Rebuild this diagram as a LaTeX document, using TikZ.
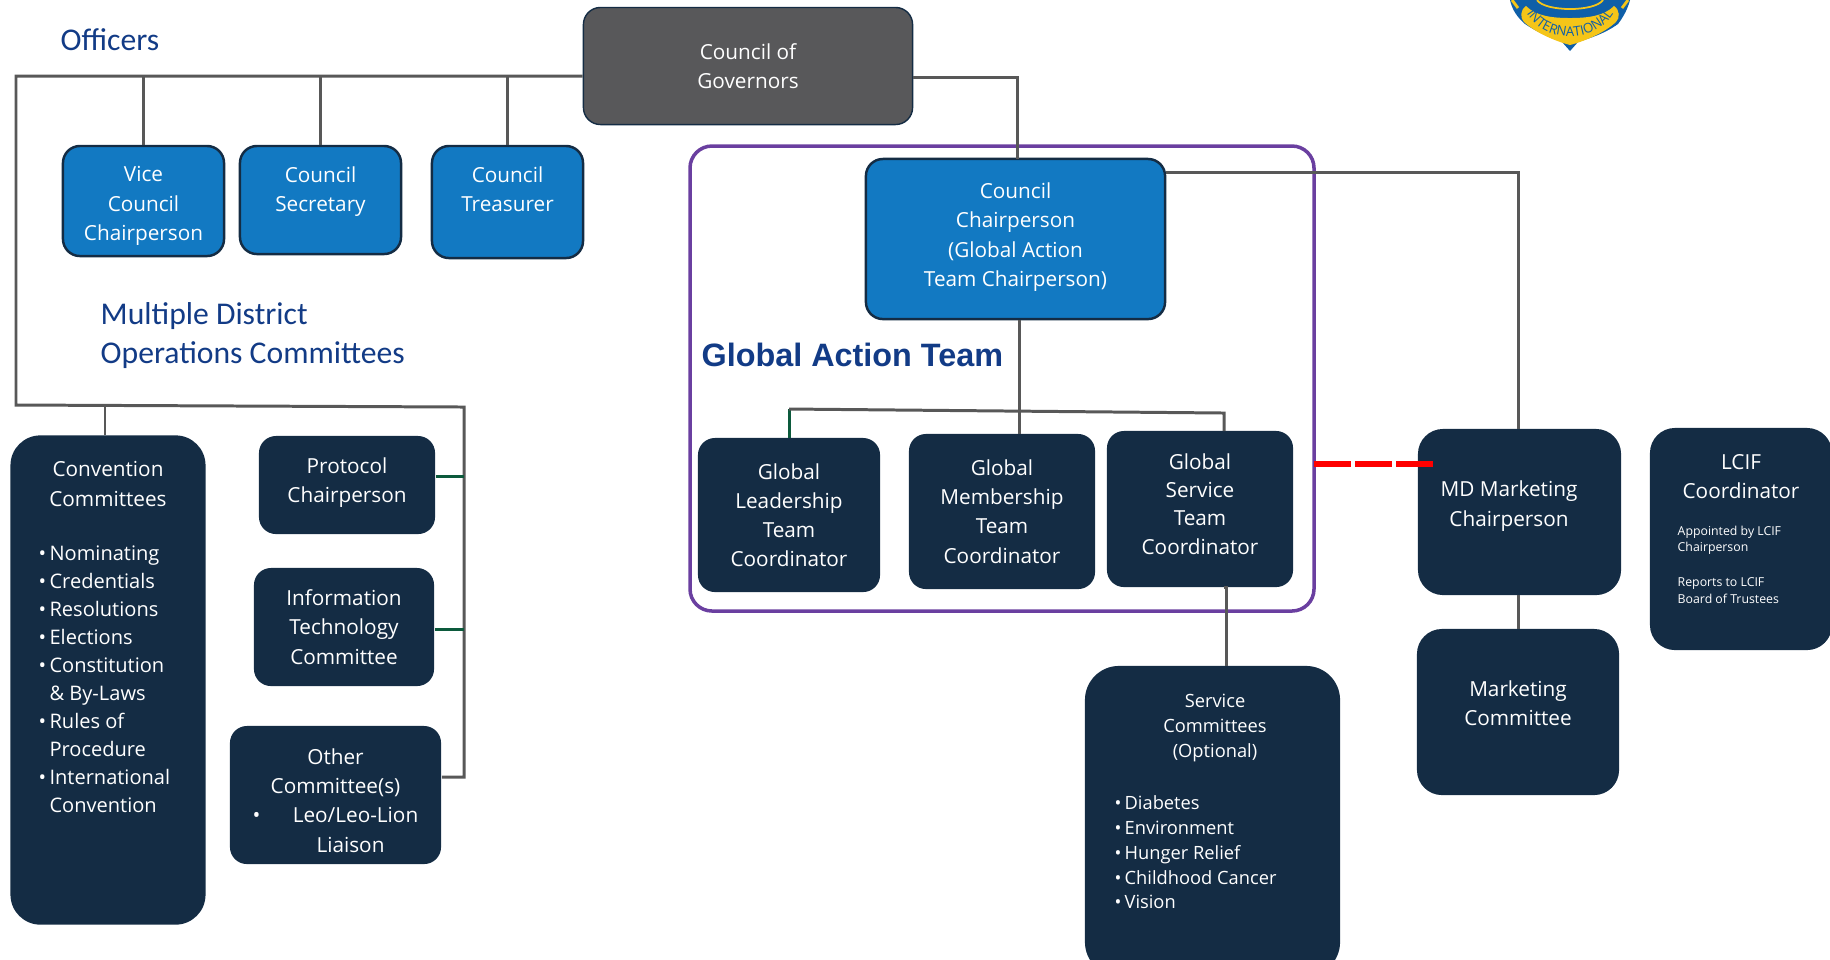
\documentclass[tikz,border=0pt]{standalone}
\usepackage{fontspec}
\setmainfont{Open Sans}
\newfontfamily\headfont{Carlito}
\newfontfamily\teamfont{Liberation Sans}
\usetikzlibrary{decorations.text}
\definecolor{boxblue}{HTML}{1279C2}
\definecolor{boxdark}{HTML}{142C44}
\definecolor{boxgray}{HTML}{58585A}
\definecolor{wiregray}{HTML}{585858}
\definecolor{wiregreen}{HTML}{0C5A3C}
\definecolor{teampurple}{HTML}{6A3FA0}
\definecolor{headblue}{HTML}{123B86}
\definecolor{logoblue}{HTML}{0F5FA8}
\definecolor{logogold}{HTML}{F5C518}
\tikzset{
  boxbase/.style={rounded corners=0.17cm, align=center, text=white, inner sep=0pt, font=\fontsize{5.9}{8.3}\selectfont},
  bluebox/.style={boxbase, fill=boxblue, draw=boxdark, line width=0.7pt},
  darkbox/.style={boxbase, fill=boxdark},
  graybox/.style={boxbase, fill=boxgray, draw=boxdark, line width=0.4pt},
  boxtext/.style={align=center, text=white, inner sep=0pt, font=\fontsize{5.9}{8.3}\selectfont},
  listtext/.style={align=left, text=white, inner sep=0pt, anchor=north west, font=\fontsize{5.7}{7.95}\selectfont},
  smalllist/.style={align=left, text=white, inner sep=0pt, anchor=north west, font=\fontsize{5.2}{7.1}\selectfont},
  smalltext/.style={align=left, text=white, inner sep=0pt, anchor=north west, font=\fontsize{3.5}{4.8}\selectfont},
  heading/.style={anchor=west, align=left, inner sep=0pt, text=headblue, font=\headfont\fontsize{9}{11.2}\selectfont},
  wire/.style={draw=wiregray, line width=0.85pt},
  greenwire/.style={draw=wiregreen, line width=0.85pt}
}
\begin{document}
\begin{tikzpicture}[x=0.01cm, y=-0.01cm]
\useasboundingbox (0,0) rectangle (1830,959);
% frame of the team, behind everything
\draw [draw=teampurple, line width=1pt, rounded corners=0.22cm] (690,146) rectangle (1314,611);
% top row
\node (governors) [graybox, minimum width=3.29cm, minimum height=1.17cm] at (748,66) {Council of\\Governors};
\node (vice) [bluebox, minimum width=1.61cm, minimum height=1.10cm] at (143.5,201) {};
\node (vicetext) [boxtext] at (143.5,206) {Vice\\Council\\Chairperson};
\node (secretary) [bluebox, minimum width=1.61cm, minimum height=1.08cm] at (320.5,200) {};
\node (secretarytext) [boxtext] at (320.5,191.5) {Council\\Secretary};
\node (treasurer) [bluebox, minimum width=1.51cm, minimum height=1.12cm] at (507.5,202) {};
\node (treasurertext) [boxtext] at (507.5,189) {Council\\Treasurer};
\node (officers) [heading] at (60,40) {Officers};
\node (opsheading) [heading] at (100,335.5) {Multiple District\\Operations Committees};
% left column
\node (convention) [darkbox, minimum width=1.95cm, minimum height=4.89cm, rounded corners=0.3cm] at (108,680) {};
\node (conventionhead) [boxtext] at (108,484) {Convention\\Committees};
\node (conventionlist) [listtext] at (38,545.5) {\textbullet\,Nominating\\\textbullet\,Credentials\\\textbullet\,Resolutions\\\textbullet\,Elections\\\textbullet\,Constitution\\\hphantom{\textbullet\,}\& By-Laws\\\textbullet\,Rules of\\\hphantom{\textbullet\,}Procedure\\\textbullet\,International\\\hphantom{\textbullet\,}Convention};
\node (protocol) [darkbox, minimum width=1.76cm, minimum height=0.98cm] at (347,485) {};
\node (protocoltext) [boxtext] at (347,482.5) {Protocol\\Chairperson};
\node (infotech) [darkbox, minimum width=1.80cm, minimum height=1.18cm] at (344,627) {Information\\Technology\\Committee};
\node (other) [darkbox, minimum width=2.11cm, minimum height=1.38cm] at (335.5,795) {};
\node (othertext) [boxtext] at (335.5,800.5) {Other\\Committee(s)\\\textbullet\quad\;\;Leo/Leo-Lion\\\hspace*{0.3cm}Liaison};
% team
\node (chair) [bluebox, minimum width=2.99cm, minimum height=1.60cm] at (1015.5,239) {};
\node (chairtext) [boxtext] at (1015.5,237) {Council\\Chairperson\\(Global Action\\Team Chairperson)};
\node (teamheading) [anchor=west, inner sep=0pt, text=headblue, font=\teamfont\bfseries\fontsize{9.2}{11}\selectfont] at (701,355) {Global Action Team};
\node (leadership) [darkbox, minimum width=1.82cm, minimum height=1.54cm] at (789,515) {Global\\Leadership\\Team\\Coordinator};
\node (membership) [darkbox, minimum width=1.86cm, minimum height=1.55cm] at (1002,511.5) {Global\\Membership\\Team\\Coordinator};
\node (service) [darkbox, minimum width=1.86cm, minimum height=1.56cm] at (1200,509) {};
\node (servicetext) [boxtext, font=\fontsize{5.9}{8}\selectfont] at (1200,504) {Global\\Service\\Team\\Coordinator};
\node (servicecomm) [darkbox, minimum width=2.55cm, minimum height=3.10cm, rounded corners=0.34cm] at (1212.5,821) {};
\node (servicehead) [boxtext, font=\fontsize{5.2}{7.1}\selectfont] at (1215,728) {Service\\Committees\\(Optional)};
\node (servicelist) [smalllist] at (1114,794.5) {\textbullet\,Diabetes\\\textbullet\,Environment\\\textbullet\,Hunger Relief\\\textbullet\,Childhood Cancer\\\textbullet\,Vision};
% right column
\node (marketing) [darkbox, minimum width=2.03cm, minimum height=1.66cm, rounded corners=0.25cm] at (1519.5,512) {};
\node (marketingtext) [boxtext] at (1509,506) {MD Marketing\\Chairperson};
\node (marketcomm) [darkbox, minimum width=2.02cm, minimum height=1.66cm, rounded corners=0.25cm] at (1518,712) {};
\node (marketcommtext) [boxtext] at (1518,703) {Marketing\\Committee};
\node (lcif) [darkbox, minimum width=1.82cm, minimum height=2.22cm, rounded corners=0.25cm] at (1741,539) {};
\node (lcifhead) [boxtext] at (1741,476.5) {LCIF\\Coordinator};
\node (lcifnote) [smalltext] at (1677,525) {Appointed by LCIF\\Chairperson\\[5pt]Reports to LCIF\\Board of Trustees};
% logo, cut off by the page edge
\fill [logoblue] (1510,0) .. controls (1512,10) and (1518,18) .. (1525,24) .. controls (1540,34) and (1552,38) .. (1562,42) -- (1570,51) -- (1578,42) .. controls (1590,38) and (1604,34) .. (1618,24) .. controls (1624,16) and (1628,8) .. (1630,0) -- cycle;
\fill [logogold] (1526,6) .. controls (1536,16) and (1552,18) .. (1570,18) .. controls (1588,18) and (1604,16) .. (1614,6) .. controls (1620,10) and (1620,18) .. (1616,22) .. controls (1604,33) and (1585,41) .. (1570,45) .. controls (1555,41) and (1536,33) .. (1524,22) .. controls (1520,18) and (1520,10) .. (1526,6) -- cycle;
\draw [logogold, line width=0.5pt] (1537,0) .. controls (1545,12) and (1595,12) .. (1603,0);
\draw [logogold, line width=0.8pt] (1512,0) -- (1518,8);
\draw [logogold, line width=0.8pt] (1628,0) -- (1622,8);
\coordinate (logoleft) at (1527,14);
\coordinate (logoright) at (1613,14);
\path [decorate, decoration={text along path, text align=center, text={|\fontsize{3.8}{4}\selectfont\color{logoblue}|INTERNATIONAL}}] (logoleft) .. controls (1546,44) and (1594,44) .. (logoright);
% connectors
\coordinate (topleft) at (16,76);
\coordinate (lowleft) at (16,405);
\coordinate (lowright) at (464,407);
\coordinate (otherend) at (464,777);
\draw [wire] (governors.west |- topleft) -- (topleft) -- (lowleft) -- (lowright) -- (otherend) -- (other.east |- otherend);
\draw [wire] (vice.north) -- (vice.north |- topleft);
\draw [wire] (secretary.north) -- (secretary.north |- topleft);
\draw [wire] (treasurer.north) -- (treasurer.north |- topleft);
\draw [wire] (convention.north -| 105,0) -- (105,405);
\draw [greenwire] (protocol.east |- 0,476) -- (464,476);
\draw [greenwire] (infotech.east |- 0,629) -- (464,629);
\draw [wire] (governors.east |- 0,77) -- (1017,77) -- (1017,159);
\draw [wire] (chair.south -| 1019,0) -- (1019,434);
\coordinate (busleft) at (789,409);
\coordinate (busright) at (1224,413);
\draw [greenwire] (busleft) -- (789,438);
\draw [wire] (busleft) -- (busright) -- (1224,431);
\draw [wire] (1224,587) -- (1226,587) -- (1226,666);
\draw [wire] (chair.east |- 0,172) -- (1518,172) -- (1518,429);
\draw [wire] (1518,595) -- (1518,629);
\draw [draw=red, line width=1.5pt, dash pattern=on 0.37cm off 0.04cm] (1314,464) -- (1433,464);
\end{tikzpicture}
\end{document}
